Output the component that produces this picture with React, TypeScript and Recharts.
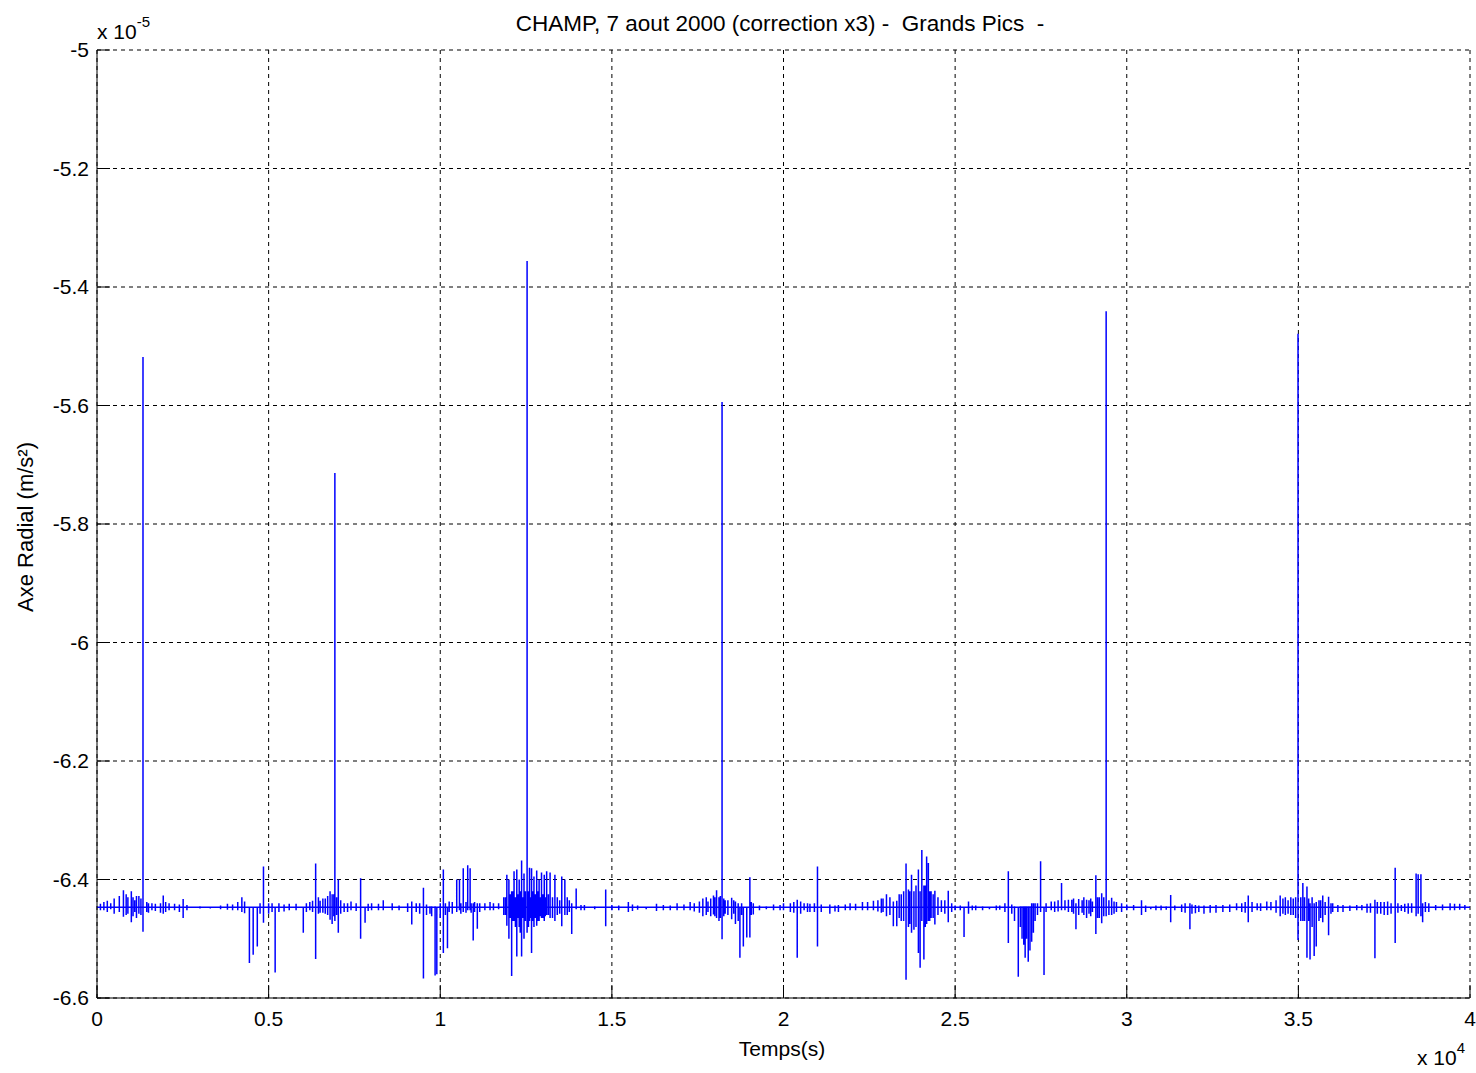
import React from "react";
import { LineChart, Line, XAxis, YAxis, CartesianGrid } from "recharts";

// Time in units of 1e4 s, acceleration in units of 1e-5 m/s^2
const BASELINE = -6.447;

const xTicks = [0, 0.5, 1, 1.5, 2, 2.5, 3, 3.5, 4];
const yTicks = [-6.6, -6.4, -6.2, -6, -5.8, -5.6, -5.4, -5.2, -5];

// Main events: time, max value reached, min value reached
const eventTimes = [
  0.02, 0.04, 0.065, 0.077, 0.09, 0.1, 0.11, 0.122, 0.134, 0.145, 0.16, 0.193, 0.21, 0.24, 0.251, 0.3, 0.38, 0.41,
  0.422, 0.444, 0.455, 0.467, 0.485, 0.5, 0.519, 0.53, 0.56, 0.601, 0.62, 0.637, 0.65, 0.665, 0.679, 0.685, 0.693,
  0.703, 0.72, 0.74, 0.768, 0.781, 0.8, 0.834, 0.86, 0.917, 0.93, 0.951, 0.97, 0.985, 0.99, 1.009, 1.021, 1.026,
  1.048, 1.056, 1.067, 1.08, 1.087, 1.096, 1.108, 1.13, 1.145, 1.17, 1.194, 1.2, 1.208, 1.215, 1.223, 1.23, 1.237,
  1.244, 1.253, 1.26, 1.266, 1.273, 1.281, 1.288, 1.295, 1.303, 1.31, 1.32, 1.334, 1.354, 1.363, 1.383, 1.396, 1.42,
  1.45, 1.482, 1.5, 1.548, 1.6, 1.63, 1.69, 1.728, 1.765, 1.78, 1.796, 1.805, 1.812, 1.821, 1.83, 1.849, 1.86, 1.873,
  1.883, 1.893, 1.902, 1.912, 1.93, 1.971, 2.0, 2.04, 2.06, 2.077, 2.099, 2.135, 2.16, 2.194, 2.23, 2.262, 2.29, 2.3,
  2.32, 2.33, 2.343, 2.357, 2.364, 2.373, 2.38, 2.393, 2.398, 2.403, 2.409, 2.417, 2.422, 2.43, 2.441, 2.46, 2.48,
  2.5, 2.526, 2.539, 2.56, 2.6, 2.63, 2.655, 2.684, 2.7, 2.704, 2.713, 2.718, 2.723, 2.728, 2.749, 2.759, 2.78, 2.81,
  2.82, 2.84, 2.852, 2.87, 2.883, 2.9, 2.91, 2.92, 2.927, 2.94, 2.956, 2.97, 3.0, 3.043, 3.07, 3.1, 3.128, 3.16,
  3.184, 3.21, 3.243, 3.28, 3.32, 3.354, 3.38, 3.408, 3.447, 3.47, 3.485, 3.499, 3.513, 3.525, 3.534, 3.54, 3.546,
  3.552, 3.56, 3.571, 3.588, 3.6, 3.63, 3.67, 3.7, 3.723, 3.74, 3.76, 3.782, 3.8, 3.82, 3.843, 3.849, 3.857, 3.862,
  3.9, 3.942, 3.97,
];

const eventHighs = [
  -6.438, -6.44, -6.428, -6.418, -6.43, -6.42, -6.435, -6.428, -5.518, -6.438, -6.44, -6.427, -6.44, -6.442, -6.433, -6.445, -6.441, -6.438,
  -6.43, -6.447, -6.447, -6.447, -6.378, -6.44, -6.447, -6.44, -6.441, -6.447, -6.438, -6.373, -6.436, -6.432, -6.42, -6.425, -5.714,
  -6.4, -6.44, -6.437, -6.398, -6.447, -6.44, -6.435, -6.44, -6.437, -6.44, -6.414, -6.445, -6.445, -6.447, -6.383, -6.447, -6.437,
  -6.4, -6.4, -6.381, -6.376, -6.381, -6.44, -6.44, -6.44, -6.438, -6.44, -6.392, -6.4, -6.42, -6.386, -6.383, -6.4, -6.368,
  -6.39, -5.356, -6.38, -6.381, -6.395, -6.385, -6.4, -6.388, -6.392, -6.386, -6.388, -6.392, -6.395, -6.4, -6.44, -6.415, -6.443,
  -6.445, -6.417, -6.443, -6.438, -6.446, -6.441, -6.44, -6.438, -6.432, -6.437, -6.427, -6.418, -6.43, -5.594, -6.435, -6.431, -6.437, -6.447,
  -6.447, -6.447, -6.396, -6.44, -6.444, -6.442, -6.44, -6.434, -6.44, -6.441, -6.378, -6.442, -6.443, -6.44, -6.438, -6.436, -6.432, -6.425,
  -6.437, -6.436, -6.425, -6.373, -6.417, -6.392, -6.42, -6.383, -6.42, -6.35, -6.41, -6.361, -6.372, -6.42, -6.419, -6.435, -6.419,
  -6.444, -6.447, -6.437, -6.444, -6.446, -6.444, -6.386, -6.447, -6.445, -6.445, -6.445, -6.445, -6.44, -6.44, -6.369, -6.447, -6.437, -6.406,
  -6.435, -6.434, -6.44, -6.435, -6.434, -6.437, -6.393, -6.43, -6.423, -5.441, -6.431, -6.438, -6.442, -6.435, -6.446, -6.444, -6.426, -6.442,
  -6.44, -6.444, -6.443, -6.443, -6.44, -6.427, -6.44, -6.437, -6.427, -6.435, -6.432, -5.479, -6.406, -6.412, -6.44, -6.43, -6.44,
  -6.438, -6.435, -6.427, -6.429, -6.44, -6.443, -6.443, -6.441, -6.434, -6.438, -6.437, -6.38, -6.443, -6.44, -6.39, -6.391, -6.391, -6.44,
  -6.443, -6.44, -6.441,
];

const eventLows = [
  -6.452, -6.45, -6.455, -6.463, -6.458, -6.472, -6.455, -6.458, -6.488, -6.455, -6.452, -6.458, -6.452, -6.455, -6.465, -6.449, -6.451, -6.452,
  -6.455, -6.541, -6.527, -6.513, -6.473, -6.458, -6.557, -6.455, -6.452, -6.49, -6.452, -6.534, -6.456, -6.458, -6.468, -6.475, -6.47,
  -6.49, -6.455, -6.452, -6.5, -6.473, -6.452, -6.452, -6.452, -6.476, -6.455, -6.567, -6.458, -6.562, -6.56, -6.524, -6.516, -6.455,
  -6.455, -6.452, -6.455, -6.452, -6.452, -6.503, -6.483, -6.452, -6.452, -6.45, -6.478, -6.5, -6.563, -6.47, -6.53, -6.48, -6.53,
  -6.5, -6.49, -6.47, -6.524, -6.48, -6.478, -6.47, -6.465, -6.47, -6.46, -6.465, -6.47, -6.479, -6.46, -6.492, -6.45, -6.452,
  -6.45, -6.479, -6.452, -6.455, -6.45, -6.453, -6.452, -6.452, -6.462, -6.455, -6.459, -6.465, -6.47, -6.501, -6.458, -6.467, -6.475, -6.532,
  -6.513, -6.498, -6.498, -6.459, -6.452, -6.452, -6.452, -6.532, -6.452, -6.455, -6.513, -6.458, -6.455, -6.452, -6.452, -6.452, -6.455, -6.462,
  -6.479, -6.479, -6.47, -6.569, -6.48, -6.49, -6.485, -6.524, -6.549, -6.47, -6.535, -6.475, -6.47, -6.465, -6.476, -6.455, -6.472,
  -6.452, -6.497, -6.458, -6.452, -6.45, -6.451, -6.507, -6.564, -6.51, -6.532, -6.539, -6.52, -6.505, -6.49, -6.455, -6.561, -6.452, -6.452,
  -6.452, -6.455, -6.484, -6.456, -6.465, -6.455, -6.492, -6.465, -6.474, -6.462, -6.46, -6.455, -6.452, -6.46, -6.45, -6.452, -6.472, -6.455,
  -6.484, -6.455, -6.456, -6.455, -6.452, -6.472, -6.452, -6.452, -6.462, -6.458, -6.46, -6.502, -6.47, -6.532, -6.535, -6.48, -6.529,
  -6.513, -6.47, -6.472, -6.494, -6.455, -6.455, -6.452, -6.456, -6.533, -6.458, -6.46, -6.507, -6.453, -6.458, -6.462, -6.458, -6.462, -6.472,
  -6.452, -6.452, -6.451,
];

// Small baseline fluctuations: time, max, min
const noiseTimes = [
  0.01, 0.03, 0.05, 0.085, 0.105, 0.115, 0.128, 0.15, 0.17, 0.185, 0.2, 0.226, 0.262, 0.33, 0.36, 0.395, 0.43, 0.475,
  0.51, 0.545, 0.58, 0.61, 0.628, 0.645, 0.658, 0.672, 0.69, 0.698, 0.71, 0.73, 0.755, 0.79, 0.82, 0.88, 0.905, 0.94,
  0.96, 0.975, 1.0, 1.015, 1.035, 1.06, 1.075, 1.09, 1.1, 1.115, 1.155, 1.185, 1.19, 1.204, 1.212, 1.219, 1.226, 1.233,
  1.24, 1.248, 1.257, 1.263, 1.27, 1.277, 1.285, 1.292, 1.299, 1.306, 1.315, 1.327, 1.341, 1.348, 1.37, 1.376, 1.41,
  1.52, 1.56, 1.575, 1.65, 1.67, 1.71, 1.74, 1.755, 1.775, 1.788, 1.8, 1.816, 1.826, 1.838, 1.855, 1.868, 1.878, 1.906,
  1.95, 1.99, 2.02, 2.03, 2.05, 2.07, 2.09, 2.11, 2.15, 2.18, 2.21, 2.245, 2.275, 2.285, 2.31, 2.337, 2.35, 2.368,
  2.386, 2.413, 2.426, 2.436, 2.45, 2.47, 2.49, 2.515, 2.55, 2.58, 2.62, 2.645, 2.665, 2.673, 2.69, 2.695, 2.708,
  2.733, 2.74, 2.765, 2.79, 2.8, 2.83, 2.845, 2.86, 2.875, 2.89, 2.895, 2.915, 2.933, 2.948, 2.963, 2.985, 3.02, 3.055,
  3.085, 3.115, 3.14, 3.17, 3.19, 3.2, 3.225, 3.26, 3.3, 3.335, 3.345, 3.365, 3.39, 3.42, 3.435, 3.455, 3.462, 3.478,
  3.492, 3.507, 3.518, 3.53, 3.565, 3.578, 3.595, 3.615, 3.65, 3.685, 3.71, 3.73, 3.75, 3.77, 3.79, 3.81, 3.83, 3.87,
  3.88, 3.92, 3.955, 3.985,
];

const noiseHighs = [
  -6.441, -6.436, -6.432, -6.425, -6.43, -6.428, -6.432, -6.44, -6.441, -6.44, -6.438, -6.441, -6.443, -6.446, -6.444, -6.442, -6.437, -6.44,
  -6.44, -6.442, -6.441, -6.44, -6.436, -6.43, -6.432, -6.428, -6.425, -6.43, -6.435, -6.44, -6.44, -6.441, -6.441, -6.444, -6.44, -6.44,
  -6.442, -6.445, -6.44, -6.44, -6.438, -6.44, -6.438, -6.44, -6.438, -6.44, -6.44, -6.43, -6.43, -6.425, -6.42, -6.43, -6.425, -6.42,
  -6.43, -6.42, -6.42, -6.43, -6.42, -6.425, -6.42, -6.43, -6.425, -6.43, -6.425, -6.43, -6.43, -6.435, -6.43, -6.435, -6.443,
  -6.444, -6.442, -6.444, -6.443, -6.444, -6.442, -6.44, -6.437, -6.43, -6.432, -6.43, -6.428, -6.432, -6.435, -6.435, -6.44, -6.44, -6.438,
  -6.445, -6.443, -6.44, -6.438, -6.437, -6.44, -6.44, -6.442, -6.444, -6.442, -6.441, -6.438, -6.435, -6.432, -6.43, -6.425, -6.42, -6.42,
  -6.41, -6.41, -6.42, -6.425, -6.43, -6.435, -6.44, -6.444, -6.444, -6.445, -6.444, -6.44, -6.442, -6.445, -6.445, -6.445, -6.445,
  -6.44, -6.44, -6.44, -6.437, -6.435, -6.434, -6.432, -6.433, -6.43, -6.435, -6.432, -6.43, -6.43, -6.435, -6.437, -6.44, -6.443, -6.444,
  -6.444, -6.445, -6.444, -6.44, -6.442, -6.443, -6.444, -6.443, -6.442, -6.44, -6.438, -6.438, -6.44, -6.438, -6.435, -6.432, -6.43, -6.43,
  -6.43, -6.43, -6.43, -6.432, -6.435, -6.438, -6.44, -6.443, -6.444, -6.443, -6.44, -6.438, -6.438, -6.44, -6.44, -6.441, -6.44, -6.438,
  -6.44, -6.442, -6.441, -6.443,
];

const noiseLows = [
  -6.452, -6.455, -6.458, -6.46, -6.462, -6.465, -6.46, -6.456, -6.453, -6.456, -6.455, -6.452, -6.452, -6.449, -6.45, -6.452, -6.457, -6.458,
  -6.455, -6.454, -6.452, -6.455, -6.455, -6.458, -6.456, -6.46, -6.462, -6.46, -6.458, -6.455, -6.453, -6.453, -6.452, -6.452, -6.455, -6.458,
  -6.46, -6.462, -6.465, -6.46, -6.458, -6.458, -6.456, -6.456, -6.455, -6.455, -6.452, -6.46, -6.46, -6.465, -6.47, -6.48, -6.465, -6.49,
  -6.465, -6.47, -6.48, -6.465, -6.47, -6.465, -6.47, -6.462, -6.465, -6.462, -6.46, -6.465, -6.46, -6.458, -6.46, -6.455, -6.452,
  -6.452, -6.453, -6.451, -6.452, -6.452, -6.452, -6.454, -6.456, -6.46, -6.462, -6.462, -6.465, -6.462, -6.46, -6.458, -6.47, -6.46, -6.46,
  -6.45, -6.452, -6.455, -6.456, -6.458, -6.455, -6.455, -6.455, -6.454, -6.452, -6.452, -6.452, -6.454, -6.456, -6.46, -6.465, -6.47, -6.475,
  -6.48, -6.48, -6.47, -6.465, -6.46, -6.458, -6.455, -6.452, -6.452, -6.452, -6.452, -6.455, -6.458, -6.47, -6.48, -6.5, -6.5,
  -6.47, -6.46, -6.455, -6.455, -6.454, -6.455, -6.458, -6.46, -6.46, -6.458, -6.462, -6.465, -6.462, -6.46, -6.458, -6.455, -6.452, -6.455,
  -6.452, -6.451, -6.452, -6.456, -6.458, -6.457, -6.458, -6.456, -6.455, -6.455, -6.456, -6.455, -6.453, -6.452, -6.456, -6.458, -6.46, -6.46,
  -6.465, -6.47, -6.47, -6.47, -6.465, -6.46, -6.458, -6.455, -6.453, -6.452, -6.456, -6.458, -6.46, -6.458, -6.456, -6.455, -6.456, -6.455,
  -6.455, -6.452, -6.452, -6.451,
];

type Ev = { t: number; hi: number; lo: number };

const buildPoints = () => {
  const events: Ev[] = [];
  eventTimes.forEach((t, i) => events.push({ t, hi: eventHighs[i], lo: eventLows[i] }));
  noiseTimes.forEach((t, i) => events.push({ t, hi: noiseHighs[i], lo: noiseLows[i] }));
  events.sort((a, b) => a.t - b.t);
  const pts: { t: number; v: number }[] = [{ t: 0, v: BASELINE }];
  events.forEach((e) => {
    pts.push({ t: e.t, v: BASELINE });
    pts.push({ t: e.t, v: e.hi });
    pts.push({ t: e.t, v: e.lo });
    pts.push({ t: e.t, v: BASELINE });
  });
  pts.push({ t: 4, v: BASELINE });
  return pts;
};

const FONT = "'Liberation Sans', Arial, Helvetica, sans-serif";
const fmt = (v: number) => String(Number(v.toFixed(1)));
const emptyTick = () => <g />;

export default function App() {
  const data = buildPoints();
  const W = 1476;
  const H = 1073;
  const tickStyle = { fontSize: 21, fill: "#000", fontFamily: FONT };
  const tickLine = { stroke: "#000", strokeWidth: 1 };
  return (
    <div style={{ position: "absolute", left: 0, top: 0, width: W, height: H, background: "#fff" }}>
      <LineChart width={W} height={H} data={data} margin={{ top: 50, right: 6, bottom: 0, left: 0 }}>
        <CartesianGrid stroke="#000" strokeDasharray="4 4" strokeWidth={1} horizontalValues={yTicks} verticalValues={xTicks} />
        <XAxis
          dataKey="t"
          type="number"
          domain={[0, 4]}
          ticks={xTicks}
          interval={0}
          tickFormatter={fmt}
          height={75}
          tickSize={-13}
          tickMargin={26}
          tick={tickStyle}
          tickLine={tickLine}
          stroke="#000"
          allowDataOverflow
        />
        <XAxis
          xAxisId="top"
          orientation="top"
          dataKey="t"
          type="number"
          domain={[0, 4]}
          ticks={xTicks}
          interval={0}
          height={0}
          tickSize={-13}
          tick={emptyTick}
          tickLine={tickLine}
          stroke="#000"
        />
        <YAxis
          type="number"
          domain={[-6.6, -5]}
          ticks={yTicks}
          interval={0}
          tickFormatter={fmt}
          width={97}
          tickSize={-13}
          tickMargin={21}
          tick={tickStyle}
          tickLine={tickLine}
          stroke="#000"
          allowDataOverflow
        />
        <YAxis
          yAxisId="right"
          orientation="right"
          type="number"
          domain={[-6.6, -5]}
          ticks={yTicks}
          interval={0}
          width={0}
          tickSize={-13}
          tick={emptyTick}
          tickLine={tickLine}
          stroke="#000"
        />
        <Line
          dataKey="v"
          type="linear"
          stroke="#0000ff"
          strokeWidth={1.5}
          dot={false}
          activeDot={false}
          isAnimationActive={false}
        />
      </LineChart>
      <svg
        width={W}
        height={H}
        style={{ position: "absolute", left: 0, top: 0, pointerEvents: "none" }}
        fontFamily={FONT}
      >
        <text x={780} y={31} fontSize={22.5} textAnchor="middle" fill="#000" style={{ whiteSpace: "pre" }}>
          {"CHAMP, 7 aout 2000 (correction x3) -  Grands Pics  -"}
        </text>
        <text x={782} y={1056} fontSize={21} textAnchor="middle" fill="#000">
          Temps(s)
        </text>
        <text transform="translate(33,527) rotate(-90)" fontSize={22} textAnchor="middle" fill="#000">
          Axe Radial (m/s²)
        </text>
        <text x={97} y={39} fontSize={21} fill="#000">
          x 10
          <tspan fontSize={15} dy={-12}>
            -5
          </tspan>
        </text>
        <text x={1417} y={1065} fontSize={21} fill="#000">
          x 10
          <tspan fontSize={15} dy={-12}>
            4
          </tspan>
        </text>
      </svg>
    </div>
  );
}
